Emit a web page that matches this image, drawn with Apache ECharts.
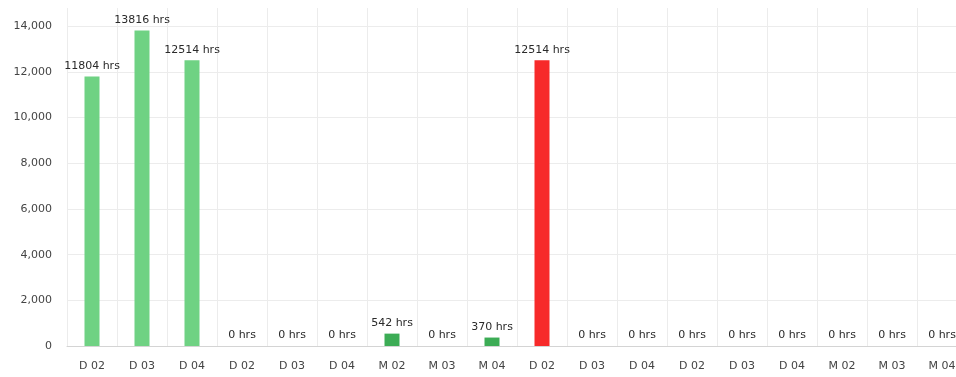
<!DOCTYPE html>
<html>
<head>
<meta charset="utf-8">
<script src="https://cdn.jsdelivr.net/npm/echarts@6/dist/echarts.min.js"></script>
<style>
  html, body { margin: 0; padding: 0; background: #fff; }
  #chart { width: 956px; height: 377px; }
</style>
</head>
<body>
<div id="chart"></div>
<script>
const categories = ['D 02', 'D 03', 'D 04', 'D 02', 'D 03', 'D 04', 'M 02', 'M 03', 'M 04',
  'D 02', 'D 03', 'D 04', 'D 02', 'D 03', 'D 04', 'M 02', 'M 03', 'M 04']
const hours = [11804, 13816, 12514, 0, 0, 0, 542, 0, 370, 12514, 0, 0, 0, 0, 0, 0, 0, 0]
const barColors = ['#6fd283', '#6fd283', '#6fd283', '#6fd283', '#6fd283', '#6fd283', '#3cac55', '#3cac55', '#3cac55',
  '#f72a2a', '#6fd283', '#6fd283', '#6fd283', '#6fd283', '#6fd283', '#3cac55', '#3cac55', '#3cac55']

const chart = echarts.init(document.getElementById('chart'))

// horizontal grid lines: last one (axis max) hidden
const hLineColors = ['#e6e6e6', '#ececec', '#ececec', '#ececec', '#ececec', '#ececec', '#ececec', '#ececec', 'rgba(0,0,0,0)']

chart.setOption({
  animation: false,
  // plot runs past the right edge of the canvas, like the reference
  grid: { left: 67, top: 8, width: 900, height: 338, outerBoundsMode: 'none' },
  textStyle: { fontFamily: 'DejaVu Sans' },
  xAxis: {
    type: 'category',
    data: categories,
    axisLine: { show: true, lineStyle: { color: '#d4d4d4', width: 1 } },
    axisTick: { show: false },
    axisLabel: { color: '#444', fontSize: 11, margin: 15 },
    splitLine: { show: true, lineStyle: { color: '#ececec' } }
  },
  yAxis: {
    type: 'value',
    min: 0,
    max: 14800,
    interval: 2000,
    axisLine: { show: false },
    axisTick: { show: false },
    axisLabel: {
      color: '#444',
      fontSize: 11,
      margin: 15,
      showMaxLabel: false,
      formatter: v => v.toLocaleString('en-US')
    },
    splitLine: { show: true, lineStyle: { color: hLineColors } }
  },
  series: [{
    type: 'bar',
    barWidth: 15,
    data: hours.map((v, i) => ({ value: v, itemStyle: { color: barColors[i] } })),
    label: {
      show: true,
      position: 'top',
      distance: 5,
      color: '#2a2a2a',
      fontSize: 11,
      formatter: p => p.value + ' hrs'
    }
  }]
})
</script>
</body>
</html>
